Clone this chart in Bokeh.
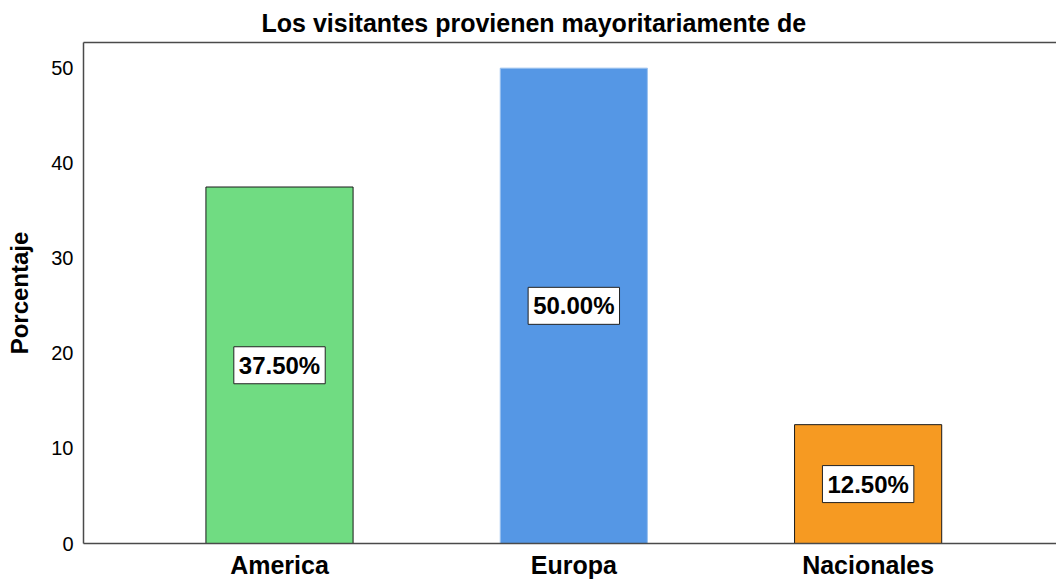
from bokeh.plotting import figure
from bokeh.models import (ColumnDataSource, Range1d, LinearAxis, FixedTicker,
                          SingleIntervalTicker)
from bokeh.core.properties import value
from bokeh.embed import file_html
from bokeh.resources import INLINE

# ---- data ----
categories = ["America", "Europa", "Nacionales"]
percentages = [37.5, 50.0, 12.5]
bar_colors = ["#70DC82", "#5597E5", "#F69A22"]
bar_outlines = ["#1a1a1a", "#9cc2ef", "#1a1a1a"]
y_ticks_interval = 10
title_text = "Los visitantes provienen mayoritariamente de"
y_label = "Porcentaje"

positions = [i + 1 for i in range(len(categories))]
labels = ["%.2f%%" % v for v in percentages]
mids = [v / 2 for v in percentages]

src = ColumnDataSource(dict(x=positions, top=percentages, color=bar_colors,
                            outline=bar_outlines, label=labels, mid=mids))

FONT = "Liberation Sans"

p = figure(width=1056, height=581, output_backend="svg", toolbar_location=None,
           x_range=Range1d(0.334, 3.64), y_range=Range1d(0, 52.7),
           min_border_left=83, min_border_right=0, min_border_top=42,
           min_border_bottom=37, x_axis_location=None, y_axis_location=None)
p.outline_line_color = None
p.grid.visible = False
p.background_fill_color = "white"
p.border_fill_color = "white"

p.title.text = title_text
p.title.text_font = FONT
p.title.text_font_size = "25px"
p.title.text_font_style = "bold"
p.title.align = "left"
p.title.offset = 178
p.title.text_color = "black"
p.title.standoff = 12

p.vbar(x="x", top="top", width=0.5, bottom=0, source=src,
       fill_color="color", line_color="outline", line_width=1)

# axes
yax = LinearAxis(ticker=SingleIntervalTicker(interval=y_ticks_interval),
                 axis_label=y_label)
yax.axis_label_text_font = FONT
yax.axis_label_text_font_size = "24px"
yax.axis_label_text_font_style = "bold"
yax.axis_label_text_color = "black"
yax.axis_label_standoff = 15
yax.major_label_text_font = FONT
yax.major_label_text_font_size = "20px"
yax.major_label_text_color = "black"
yax.major_label_standoff = 4
yax.major_tick_line_color = None
yax.minor_tick_line_color = None
yax.axis_line_color = "#4a4a4a"
yax.axis_line_width = 1.5
p.add_layout(yax, "left")

xax = LinearAxis(ticker=FixedTicker(ticks=positions))
xax.major_label_overrides = {pos: c for pos, c in zip(positions, categories)}
xax.major_label_text_font = FONT
xax.major_label_text_font_size = "25px"
xax.major_label_text_font_style = "bold"
xax.major_label_text_color = "black"
xax.major_label_standoff = 1
xax.major_tick_line_color = None
xax.minor_tick_line_color = None
xax.axis_line_color = "#4a4a4a"
xax.axis_line_width = 1.5
p.add_layout(xax, "below")

top_ax = LinearAxis(ticker=FixedTicker(ticks=[]))
top_ax.major_label_text_font_size = "0px"
top_ax.major_label_standoff = 0
top_ax.major_tick_line_color = None
top_ax.minor_tick_line_color = None
top_ax.axis_line_color = "#4a4a4a"
top_ax.axis_line_width = 1.5
p.add_layout(top_ax, "above")

p.text(x="x", y="mid", text="label", source=src,
       text_align="center", text_baseline="middle",
       text_font=value(FONT), text_font_size="24px", text_font_style="bold",
       text_color="black", background_fill_color="white",
       border_line_color="#222222", border_line_width=1, padding=5)

open("out.html", "w").write(file_html(p, INLINE))
